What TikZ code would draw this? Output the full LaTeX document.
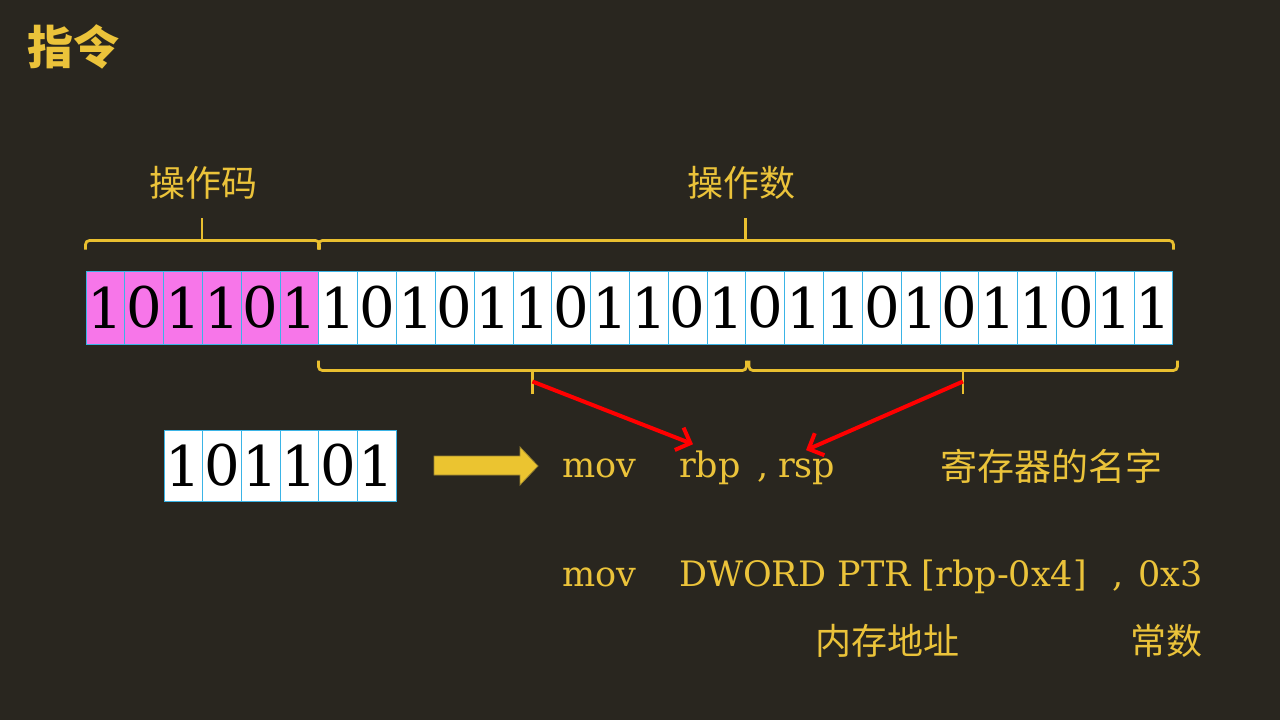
\documentclass[tikz,border=0pt]{standalone}
\usepackage{fontspec}
\setmainfont{DejaVu Serif}
\newfontfamily\cjk{Noto Sans CJK SC}
\usetikzlibrary{arrows.meta,calc}
\definecolor{bg}{HTML}{29261F}
\definecolor{gold}{HTML}{EBC33A}
\definecolor{bracecol}{HTML}{E9BF2F}
\definecolor{cellline}{HTML}{3AB4E6}
\definecolor{pinkcell}{HTML}{F776E9}
\definecolor{arrowfill}{HTML}{EBC430}
\definecolor{arrowline}{HTML}{9B8530}
\definecolor{redarrow}{HTML}{FF0000}
\tikzset{
  bitcell/.style={draw=cellline, line width=1pt, fill=white, minimum width=38.82pt, minimum height=73pt, inner sep=0pt, font=\fontsize{56}{60}\selectfont, text=black},
  smallcell/.style={bitcell, minimum width=38.67pt, minimum height=71pt},
  opcell/.style={bitcell, fill=pinkcell},
  bracepath/.style={draw=bracecol, line width=2.8pt, rounded corners=4pt},
  code/.style={anchor=base west, inner sep=0pt, text=gold, font=\fontsize{35}{40}\selectfont},
  cjklabel/.style={inner sep=0pt, text=gold, font=\cjk\fontsize{36}{40}\selectfont},
  redconn/.style={draw=redarrow, line width=4pt, -{Straight Barb[length=12pt,width=24pt,line width=4pt]}},
}
\begin{document}
\begin{tikzpicture}[x=1pt,y=-1pt]
\useasboundingbox (0,0) rectangle (1280,720);
\fill[bg] (0,0) rectangle (1280,720);

% title
\node[anchor=west, inner sep=0pt, text=gold, font=\cjk\bfseries\fontsize{46}{50}\selectfont] (title) at (27,47) {指令};

% main bit row
\foreach \b [count=\i from 0] in {1,0,1,1,0,1,1,0,1,0,1,1,0,1,1,0,1,0,1,1,0,1,0,1,1,0,1,1} {
  \ifnum\i<6
    \node[opcell] (c\i) at ({86+38.82*(\i+0.5)},307.5) {\b};
  \else
    \node[bitcell] (c\i) at ({86+38.82*(\i+0.5)},307.5) {\b};
  \fi
}

% top braces
\draw[bracepath] ([yshift=21pt]c0.north west) |- ([yshift=30pt]c5.north east) -- ([yshift=21pt]c5.north east);
\draw[bracepath] ([yshift=30pt]c3.north west) -- ([yshift=53pt]c3.north west);
\draw[bracepath] ([yshift=21pt]c6.north west) |- ([yshift=30pt]c27.north east) -- ([yshift=21pt]c27.north east);
\draw[bracepath] ([yshift=30pt]c17.north west) -- ([yshift=53pt]c17.north west);

% labels above
\node[cjklabel] (opcode) at (203,183) {操作码};
\node[cjklabel] (operand) at (741,183) {操作数};

% bottom braces
\draw[bracepath] ([yshift=-16pt]c6.south west) |- ([yshift=-26pt]c16.south east) -- ([yshift=-16pt]c16.south east);
\draw[bracepath] ([yshift=-26pt]c11.south) -- ([yshift=-49pt]c11.south);
\draw[bracepath] ([xshift=3.5pt,yshift=-16pt]c17.south west) |- ([xshift=4pt,yshift=-26pt]c27.south east) -- ([xshift=4pt,yshift=-16pt]c27.south east);
\draw[bracepath] ([xshift=3.5pt,yshift=-26pt]c22.south) -- ([xshift=3.5pt,yshift=-49pt]c22.south);

% small box
\foreach \b [count=\i from 0] in {1,0,1,1,0,1} {
  \node[smallcell] (s\i) at ({164+38.67*(\i+0.5)},465.5) {\b};
}

% block arrow
\draw[fill=arrowfill, draw=arrowline, line width=0.8pt] (434,456) -- (520,456) -- (520,447) -- (538,466) -- (520,485) -- (520,475) -- (434,475) -- cycle;

% first instruction
\node[code] (mov1) at (562,477) {mov};
\node[code] (rbp) at (679,477) {rbp};
\node[code] (comma1) at (757,477) {,};
\node[code] (rsp) at (778,477) {rsp};
\node[cjklabel, anchor=west, font=\cjk\fontsize{37}{40}\selectfont] (regname) at (940,466) {寄存器的名字};

% second instruction
\node[code] (mov2) at (562,586) {mov};
\node[code] (dword) at (679,586) {DWORD PTR [rbp-0x4]};
\node[code] (comma2) at (1112,586) {,};
\node[code, anchor=base east] (const) at (1203,586) {0x3};
\node[cjklabel, anchor=west] (memaddr) at (815,641) {内存地址};
\node[cjklabel, anchor=east] (constlbl) at (1203,641) {常数};

% red arrows
\coordinate (tipA) at ([yshift=-37pt]c11.south);
\coordinate (tipB) at ([xshift=3.5pt,yshift=-37pt]c22.south);
\coordinate (rbpTop) at ([xshift=14pt,yshift=6pt]rbp.north west);
\coordinate (rspTop) at ([xshift=28pt,yshift=8pt]rsp.north west);
\draw[redconn] (tipA) -- (rbpTop);
\draw[redconn] (tipB) -- (rspTop);
\end{tikzpicture}
\end{document}
